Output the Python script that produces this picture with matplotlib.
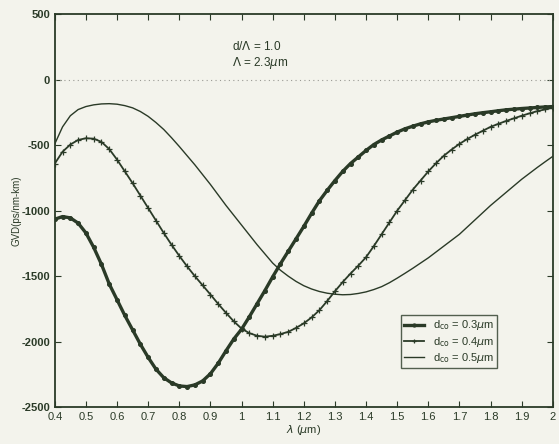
import numpy as np
import matplotlib
matplotlib.use('Agg')
import matplotlib.pyplot as plt

plt.rcParams['font.family'] = ['Liberation Sans', 'DejaVu Sans']
plt.rcParams['axes.unicode_minus'] = False

# wavelength (um)
wl = [0.400, 0.425, 0.450, 0.475, 0.500, 0.525, 0.550, 0.575, 0.600, 0.625,
      0.650, 0.675, 0.700, 0.725, 0.750, 0.775, 0.800, 0.825, 0.850, 0.875,
      0.900, 0.925, 0.950, 0.975, 1.000, 1.025, 1.050, 1.075, 1.100, 1.125,
      1.150, 1.175, 1.200, 1.225, 1.250, 1.275, 1.300, 1.325, 1.350, 1.375,
      1.400, 1.425, 1.450, 1.475, 1.500, 1.525, 1.550, 1.575, 1.600, 1.625,
      1.650, 1.675, 1.700, 1.725, 1.750, 1.775, 1.800, 1.825, 1.850, 1.875,
      1.900, 1.925, 1.950, 1.975, 2.000]

# GVD (ps/nm-km) for each core diameter
gvd_03 = [-1065, -1045, -1055, -1095, -1170, -1280, -1410, -1560, -1680, -1800,
          -1910, -2020, -2120, -2210, -2275, -2315, -2338, -2343, -2330, -2300,
          -2245, -2165, -2070, -1980, -1905, -1810, -1710, -1610, -1505, -1405,
          -1310, -1215, -1120, -1020, -925, -845, -770, -700, -640, -590,
          -540, -495, -460, -430, -400, -375, -355, -337, -322, -310,
          -300, -290, -280, -270, -260, -252, -245, -237, -230, -225,
          -220, -216, -212, -208, -205]
gvd_04 = [-640, -550, -495, -460, -447, -450, -475, -530, -610, -700,
          -790, -885, -980, -1075, -1170, -1260, -1345, -1425, -1500, -1570,
          -1640, -1712, -1780, -1845, -1900, -1935, -1955, -1962, -1955, -1942,
          -1925, -1895, -1860, -1815, -1760, -1690, -1615, -1545, -1480, -1420,
          -1355, -1270, -1180, -1090, -1000, -920, -840, -770, -700, -637,
          -580, -533, -490, -453, -420, -390, -360, -337, -315, -295,
          -275, -257, -240, -227, -214]
gvd_05 = [-490, -360, -275, -228, -205, -192, -185, -183, -187, -198,
          -215, -243, -280, -327, -380, -443, -510, -580, -650, -725,
          -800, -880, -960, -1035, -1110, -1185, -1260, -1330, -1400, -1455,
          -1500, -1540, -1573, -1598, -1617, -1630, -1638, -1642, -1640, -1632,
          -1620, -1602, -1580, -1550, -1515, -1478, -1440, -1400, -1360, -1315,
          -1270, -1225, -1180, -1125, -1070, -1015, -960, -910, -860, -810,
          -760, -715, -670, -627, -585]

xticks = [0.4, 0.5, 0.6, 0.7, 0.8, 0.9, 1.0, 1.1, 1.2, 1.3, 1.4, 1.5, 1.6, 1.7, 1.8, 1.9, 2.0]
xlabels = ['0.4', '0.5', '0.6', '0.7', '0.8', '0.9', '1', '1.1', '1.2', '1.3', '1.4',
           '1.5', '1.6', '1.7', '1.8', '1.9', '2']
yticks = [-2500, -2000, -1500, -1000, -500, 0, 500]

ink = '#2a3a27'
bg = '#f3f3ec'

fig = plt.figure(figsize=(5.59, 4.44), dpi=100, facecolor=bg)
ax = fig.add_axes([0.098, 0.083, 0.891, 0.885], facecolor=bg)

ax.axhline(0, color='#9a9a94', lw=0.8, ls=(0, (1, 3)))

ax.plot(wl, gvd_03, color=ink, lw=2.4, marker='o', ms=2.6, label=r'd$_{\rm co}$ = 0.3$\mu$m')
ax.plot(wl, gvd_04, color=ink, lw=1.3, marker='+', ms=4, mew=0.9, label=r'd$_{\rm co}$ = 0.4$\mu$m')
ax.plot(wl, gvd_05, color=ink, lw=1.0, label=r'd$_{\rm co}$ = 0.5$\mu$m')

ax.set_xlim(0.4, 2.0)
ax.set_ylim(-2500, 500)
ax.set_xticks(xticks)
ax.set_xticklabels(xlabels)
ax.set_yticks(yticks)
ax.tick_params(direction='in', top=True, right=True, labelsize=8, colors=ink, length=4)
for lab in ax.get_yticklabels():
    lab.set_fontweight('bold')
for s in ax.spines.values():
    s.set_color(ink)
    s.set_linewidth(1.3)

ax.set_xlabel(r'$\lambda$ ($\mu$m)', fontsize=8, color=ink, labelpad=1)
ax.set_ylabel('GVD(ps/nm-km)', fontsize=7, color=ink, labelpad=0)

ax.text(0.97, 252, r'd/$\Lambda$ = 1.0', fontsize=8.5, color=ink, va='center')
ax.text(0.97, 130, r'$\Lambda$ = 2.3$\mu$m', fontsize=8.5, color=ink, va='center')

leg = ax.legend(loc='lower right', bbox_to_anchor=(0.9, 0.085), fontsize=8,
                frameon=True, fancybox=False, handlelength=1.8, borderpad=0.3,
                labelspacing=0.2, facecolor=bg, edgecolor=ink, markerscale=0.8)
leg.get_frame().set_linewidth(1.0)
for t in leg.get_texts():
    t.set_color(ink)

fig.savefig('out.png', dpi=100, facecolor=bg)
